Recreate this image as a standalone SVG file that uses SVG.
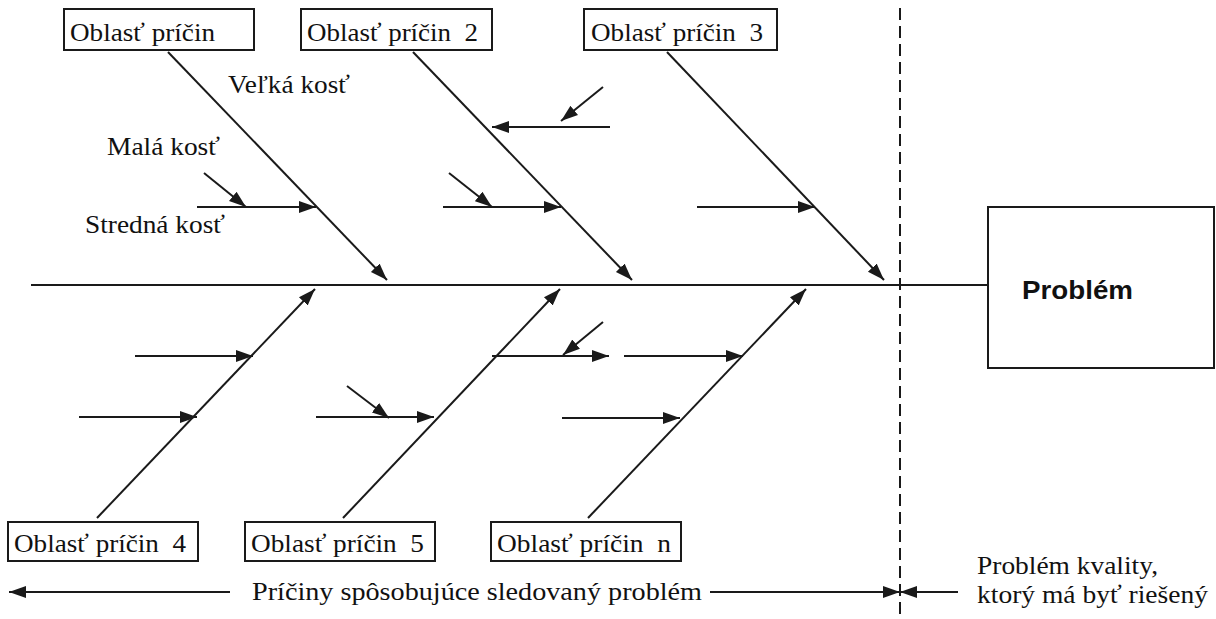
<svg xmlns="http://www.w3.org/2000/svg" width="1216" height="619" viewBox="0 0 1216 619">
<style>
.box{fill:#fff;stroke:#1a1a1a;stroke-width:2}
.t{font-family:'Liberation Serif','Times New Roman',serif;font-size:26px;fill:#111}
.ln{stroke:#1a1a1a;stroke-width:2;fill:none}
.ar{stroke:#1a1a1a;stroke-width:2;fill:none;marker-end:url(#ah)}
.pb{font-family:'Liberation Sans',Arial,sans-serif;font-weight:bold;font-size:25px;fill:#111}
</style>
<defs>
<marker id="ah" markerUnits="userSpaceOnUse" markerWidth="18" markerHeight="14" refX="17" refY="7" orient="auto">
<path d="M0,1 L17,7 L0,13 z" fill="#1a1a1a"/>
</marker>
</defs>
<rect width="1216" height="619" fill="#fff"/>
<g id="connectors">
<line class="ln" x1="31" y1="285" x2="988" y2="285"/>
<line class="ln" x1="900" y1="8" x2="900" y2="619" stroke-dasharray="12,6"/>
<line class="ar" x1="168" y1="52" x2="387" y2="280"/>
<line class="ar" x1="413" y1="52" x2="632" y2="280"/>
<line class="ar" x1="667" y1="52" x2="884" y2="280"/>
<line class="ar" x1="97" y1="518" x2="315" y2="289"/>
<line class="ar" x1="343" y1="518" x2="560" y2="289"/>
<line class="ar" x1="588" y1="518" x2="806" y2="289"/>
<line class="ar" x1="197" y1="207" x2="316" y2="207"/>
<line class="ar" x1="204" y1="173" x2="246" y2="207"/>
<line class="ar" x1="443" y1="207" x2="561" y2="207"/>
<line class="ar" x1="449" y1="173" x2="492" y2="207"/>
<line class="ar" x1="610" y1="127" x2="492" y2="127"/>
<line class="ar" x1="603" y1="87" x2="561" y2="121"/>
<line class="ar" x1="697" y1="207" x2="815" y2="207"/>
<line class="ar" x1="135" y1="356" x2="253" y2="356"/>
<line class="ar" x1="79" y1="417" x2="197" y2="417"/>
<line class="ar" x1="316" y1="417" x2="434" y2="417"/>
<line class="ar" x1="347" y1="386" x2="389" y2="418"/>
<line class="ar" x1="492" y1="356" x2="609" y2="356"/>
<line class="ar" x1="603" y1="322" x2="563" y2="355"/>
<line class="ar" x1="624" y1="356" x2="743" y2="356"/>
<line class="ar" x1="562" y1="418" x2="680" y2="418"/>
<line class="ar" x1="230" y1="592" x2="9" y2="592"/>
<line class="ar" x1="710" y1="592" x2="900" y2="592"/>
<line class="ar" x1="958" y1="592" x2="900" y2="592"/>
</g>
<g id="node-problem">
<rect class="box" x="988" y="207" width="226" height="161"/>
<text class="pb" x="1022" y="299" textLength="111" lengthAdjust="spacingAndGlyphs">Problém</text>
</g>
<g id="node-oblast1">
<rect class="box" x="64" y="9" width="190" height="41"/>
<text class="t" x="70" y="41" textLength="145" lengthAdjust="spacingAndGlyphs">Oblasť príčin</text>
</g>
<g id="node-oblast2">
<rect class="box" x="301" y="9" width="191" height="41"/>
<text class="t" x="307" y="41" textLength="171" lengthAdjust="spacingAndGlyphs" xml:space="preserve">Oblasť príčin  2</text>
</g>
<g id="node-oblast3">
<rect class="box" x="584" y="9" width="193" height="41"/>
<text class="t" x="591" y="41" textLength="172" lengthAdjust="spacingAndGlyphs" xml:space="preserve">Oblasť príčin  3</text>
</g>
<g id="node-oblast4">
<rect class="box" x="8" y="522" width="190" height="39"/>
<text class="t" x="14" y="552" textLength="172" lengthAdjust="spacingAndGlyphs" xml:space="preserve">Oblasť príčin  4</text>
</g>
<g id="node-oblast5">
<rect class="box" x="245" y="522" width="190" height="39"/>
<text class="t" x="251" y="552" textLength="173" lengthAdjust="spacingAndGlyphs" xml:space="preserve">Oblasť príčin  5</text>
</g>
<g id="node-oblastn">
<rect class="box" x="491" y="522" width="190" height="39"/>
<text class="t" x="497" y="552" textLength="174" lengthAdjust="spacingAndGlyphs" xml:space="preserve">Oblasť príčin  n</text>
</g>
<g id="labels">
<text class="t" x="228" y="93" textLength="122" lengthAdjust="spacingAndGlyphs">Veľká kosť</text>
<text class="t" x="107" y="155" textLength="113" lengthAdjust="spacingAndGlyphs">Malá kosť</text>
<text class="t" x="85" y="233" textLength="140" lengthAdjust="spacingAndGlyphs">Stredná kosť</text>
<text class="t" x="252" y="600" textLength="450" lengthAdjust="spacingAndGlyphs">Príčiny spôsobujúce sledovaný problém</text>
<text class="t" x="977" y="574" textLength="181" lengthAdjust="spacingAndGlyphs">Problém kvality,</text>
<text class="t" x="977" y="603" textLength="231" lengthAdjust="spacingAndGlyphs">ktorý má byť riešený</text>
</g>
</svg>
